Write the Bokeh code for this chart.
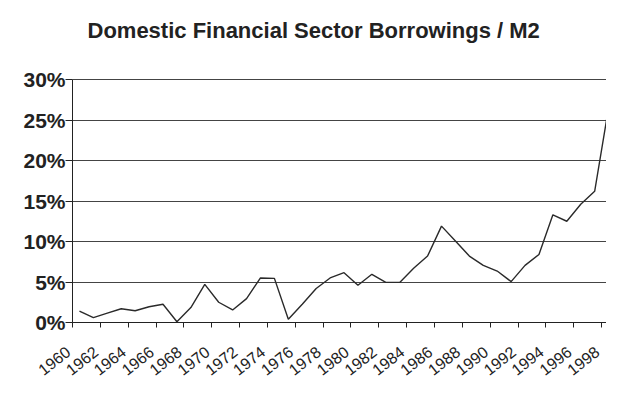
import math
from bokeh.plotting import figure
from bokeh.models import (FixedTicker, Range1d, LabelSet, Label,
                          ColumnDataSource, CustomJSTickFormatter)
from bokeh.core.properties import value
from bokeh.embed import file_html
from bokeh.resources import INLINE

# ---- data ----
years = list(range(1960, 1999))
borrowings_pct_m2 = [
    1.4, 0.6, 1.15, 1.7, 1.45, 1.95, 2.25, 0.1, 1.85, 4.7,
    2.5, 1.55, 2.95, 5.5, 5.45, 0.4, 2.25, 4.2, 5.5, 6.15,
    4.6, 5.95, 4.95, 4.95, 6.7, 8.2, 11.9, 10.05, 8.2, 7.05,
    6.35, 5.05, 7.05, 8.4, 13.3, 12.5, 14.6, 16.2, 26.5,
]
tick_years = list(range(1960, 1999, 2))
tick_labels = [str(y) for y in tick_years]
y_ticks = [0, 5, 10, 15, 20, 25, 30]
y_tick_labels = ["%d%%" % v for v in y_ticks]
title_text = "Domestic Financial Sector Borrowings / M2"

# each year's value sits in the middle of its year
x_mid = [y + 0.5 for y in years]

FONT = "Liberation Sans"
INK = "#222222"

# ---- layout (pixels) ----
W, H = 606, 381
BORDER_LEFT, BORDER_TOP = 18, 10          # small panels holding the axes
AXIS_X_PX = 72                            # y axis line, from figure left
TOP_PX, ZERO_PX = 79, 322                 # 30 % line and 0 % line, from figure top
x_hi = years[-1] + 0.35
px_per_year = (W - AXIS_X_PX) / (x_hi - years[0])
x_lo = years[0] - (AXIS_X_PX - BORDER_LEFT) / px_per_year
px_per_pct = (ZERO_PX - TOP_PX) / (y_ticks[-1] - y_ticks[0])
y_lo = y_ticks[0] - (H - ZERO_PX) / px_per_pct
y_hi = y_ticks[-1] + (TOP_PX - BORDER_TOP) / px_per_pct

p = figure(
    width=W, height=H,
    output_backend="svg", toolbar_location=None,
    x_range=Range1d(x_lo, x_hi),
    y_range=Range1d(y_lo, y_hi),
    x_axis_location="above",
    min_border_left=BORDER_LEFT, min_border_right=0,
    min_border_bottom=0, min_border_top=BORDER_TOP,
    background_fill_color="white", border_fill_color="white",
)
p.outline_line_color = None

empty = CustomJSTickFormatter(code="return ''")

# x axis drawn on the 0 % line, tick marks pointing down
p.xaxis.fixed_location = y_ticks[0]
p.xaxis.bounds = (years[0], x_hi)
p.xaxis.ticker = FixedTicker(ticks=tick_years)
p.xaxis.formatter = empty
p.xaxis.major_label_text_font_size = "1px"
p.xaxis.major_label_standoff = 0
p.xaxis.major_tick_out = 0
p.xaxis.major_tick_in = 5
p.xaxis.minor_tick_line_color = None
p.xaxis.axis_line_color = INK
p.xaxis.major_tick_line_color = INK

# y axis drawn at the start of 1960
p.yaxis.fixed_location = years[0]
p.yaxis.bounds = (y_ticks[0], y_ticks[-1])
p.yaxis.ticker = FixedTicker(ticks=y_ticks)
p.yaxis.formatter = empty
p.yaxis.major_label_text_font_size = "1px"
p.yaxis.major_label_standoff = 0
p.yaxis.major_tick_out = 7
p.yaxis.major_tick_in = 0
p.yaxis.minor_tick_line_color = None
p.yaxis.axis_line_color = INK
p.yaxis.major_tick_line_color = INK

# grid
p.xgrid.visible = False
p.ygrid.ticker = FixedTicker(ticks=y_ticks)
p.ygrid.grid_line_color = "#444444"
p.ygrid.grid_line_width = 1
p.ygrid.bounds = (y_ticks[0], y_ticks[-1])
p.ygrid.cross_bounds = (years[0], x_hi)

# year labels (rotated) under the 0 % line
year_src = ColumnDataSource(dict(x=tick_years, y=[y_ticks[0]] * len(tick_years), t=tick_labels))
p.add_layout(LabelSet(
    x="x", y="y", text="t", source=year_src,
    angle=math.radians(38), x_offset=-4.5, y_offset=-27,
    text_align="right", text_baseline="middle",
    text_font=value(FONT), text_font_size=value("16px"), text_color=INK,
))

# percent labels left of the y axis
pct_src = ColumnDataSource(dict(x=[years[0]] * len(y_ticks), y=y_ticks, t=y_tick_labels))
p.add_layout(LabelSet(
    x="x", y="y", text="t", source=pct_src,
    x_offset=-7, y_offset=0,
    text_align="right", text_baseline="middle",
    text_font=value(FONT), text_font_size=value("21px"),
    text_font_style="bold", text_color=INK,
))

# title
p.add_layout(Label(
    x=years[0], y=y_ticks[-1], text=title_text,
    x_offset=15, y_offset=49,
    text_align="left", text_baseline="alphabetic",
    text_font=FONT, text_font_size="22px", text_font_style="bold", text_color=INK,
))

# series
p.line(x_mid, borrowings_pct_m2, line_color="#2a2a2a", line_width=1.4)

open("out.html", "w").write(file_html(p, INLINE))
